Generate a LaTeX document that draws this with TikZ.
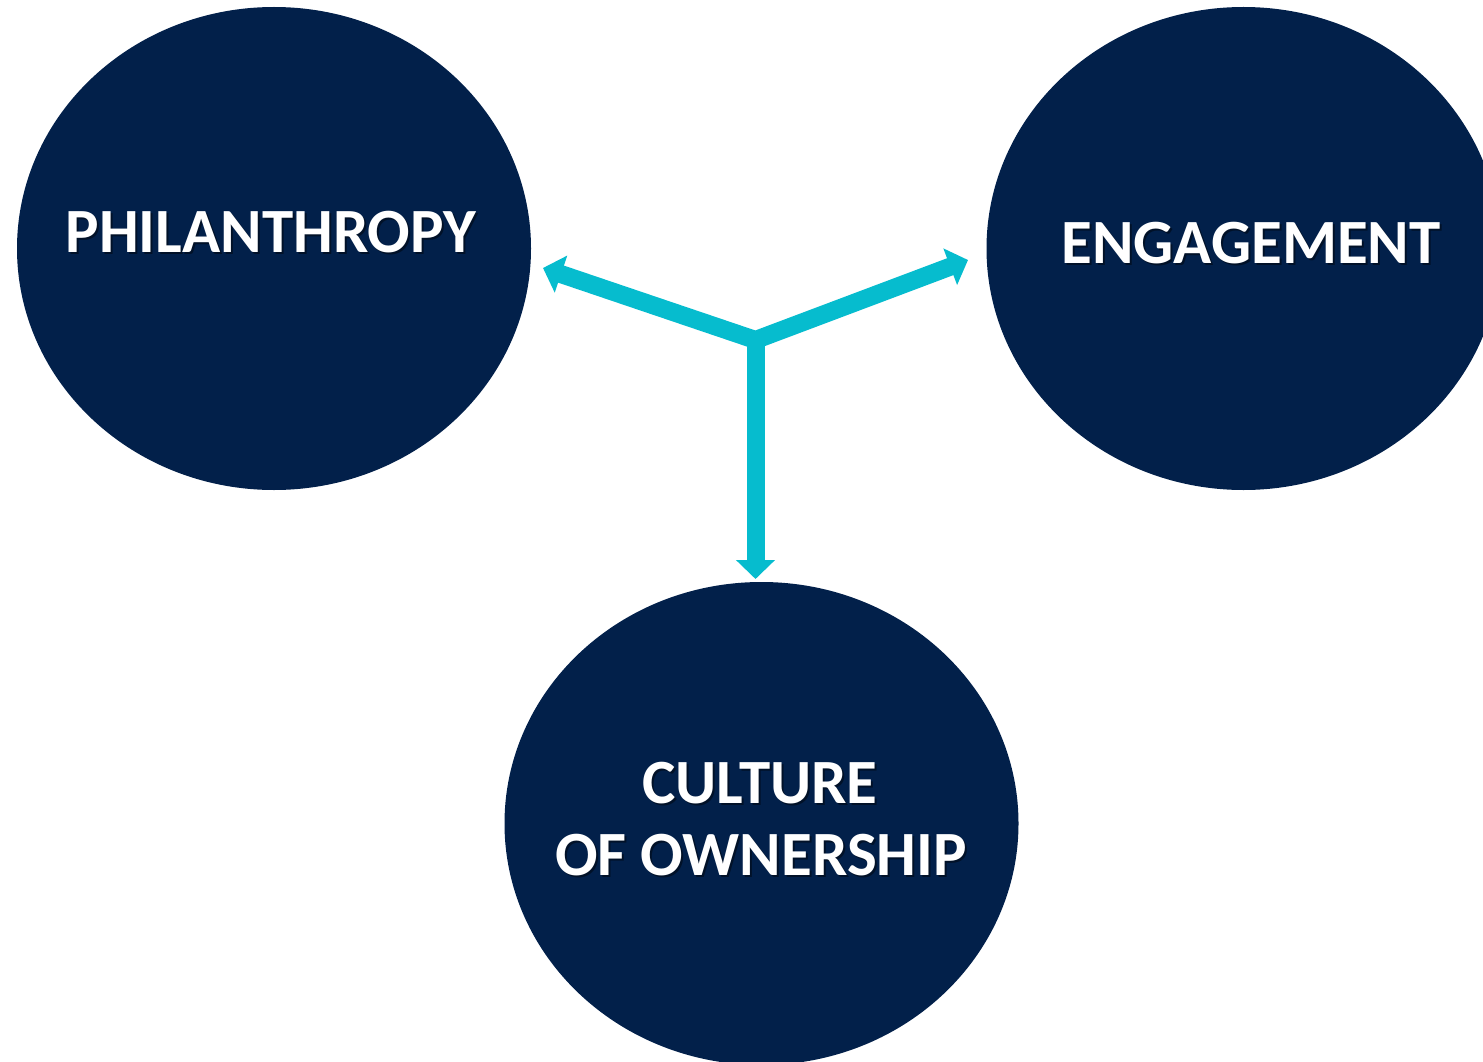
\documentclass[tikz,border=0pt]{standalone}
\usepackage{fontspec}
\setmainfont{Carlito}
\usetikzlibrary{shapes.geometric,arrows.meta}
\definecolor{navy}{HTML}{02204A}
\definecolor{teal}{HTML}{06BCCE}
\tikzset{
  circ/.style={ellipse, fill=navy, draw=none, minimum width=514pt, minimum height=483pt, inner sep=0pt},
  lbl/.style={text=white, font=\bfseries\fontsize{63}{72}\selectfont, anchor=base, inner sep=0pt},
  shad/.style={lbl, text=black, opacity=0.45},
  conn/.style={draw=teal, line width=18pt, line join=miter,
     arrows={-Triangle[width=38pt,length=19pt]}},
  conn2/.style={draw=teal, line width=18pt, line join=miter,
     arrows={Triangle[width=38pt,length=19pt]-Triangle[width=38pt,length=19pt]}}
}
\begin{document}
\begin{tikzpicture}[x=1pt,y=-1pt]
\useasboundingbox (0,0) rectangle (1483,1062);
\clip (0,0) rectangle (1483,1062);
\fill[white] (0,0) rectangle (1483,1062);
\node[circ] (phil) at (274,248.5) {};
\node[circ] (eng) at (1243.5,248.5) {};
\node[circ] (cult) at (761.5,823.5) {};
% shadows
\node[shad] at (273,254) {PHILANTHROPY};
\node[shad] at (1253,265) {ENGAGEMENT};
\node[shad] at (762,805) {CULTURE};
\node[shad] at (763,877) {OF OWNERSHIP};
% labels
\node[lbl] (philt) at (271,252) {PHILANTHROPY};
\node[lbl] (engt) at (1251,263) {ENGAGEMENT};
\node[lbl] (cultt) at (760,803) {CULTURE};
\node[lbl] (ownt) at (761,875) {OF OWNERSHIP};
% connectors
\coordinate (J) at (755.5,340);
\coordinate (tipL) at (543,268);
\coordinate (tipR) at (968,260);
\coordinate (tipD) at (755.5,579);
\draw[conn] (J) -- (tipD);
\draw[conn2] (tipL) -- (J) -- (tipR);
\end{tikzpicture}
\end{document}
